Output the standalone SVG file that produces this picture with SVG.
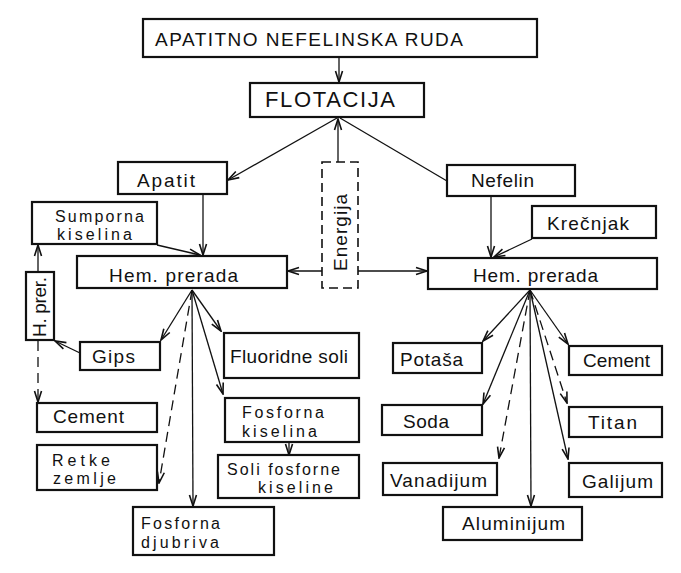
<svg xmlns="http://www.w3.org/2000/svg" width="681" height="573" viewBox="0 0 681 573">
<style>
.box{fill:#fff;stroke:#111;stroke-width:2.2}
.dbox{fill:none;stroke:#111;stroke-width:1.6;stroke-dasharray:9 5}
.t{font-family:"Liberation Sans",Arial,sans-serif;font-size:19px;fill:#111}
.t2{font-size:16px}
.c{fill:none;stroke:#111;stroke-width:1.3}
.d{stroke-dasharray:10 6}
</style>
<defs>
<marker id="ah" markerUnits="userSpaceOnUse" viewBox="-12 -5 13 10" refX="0" refY="0" markerWidth="13" markerHeight="10" orient="auto">
<path d="M-11,-3.5 L0,0 L-11,3.5" fill="none" stroke="#111" stroke-width="1.6"/>
</marker>
</defs>
<rect width="681" height="573" fill="#fff"/>
<g id="connectors">
<path class="c" d="M339,57 L339,82" marker-end="url(#ah)"/>
<path class="c" d="M337,118 L228,180" marker-end="url(#ah)"/>
<path class="c" d="M340,118 L447,181"/>
<path class="c" d="M338,162 L338,119" marker-end="url(#ah)"/>
<path class="c" d="M322,271 L288,271" marker-end="url(#ah)"/>
<path class="c" d="M358,271 L427,271" marker-end="url(#ah)"/>
<path class="c" d="M203,194 L203,255" marker-end="url(#ah)"/>
<path class="c" d="M157,245 L200,255" marker-end="url(#ah)"/>
<path class="c" d="M491,196 L491,257" marker-end="url(#ah)"/>
<path class="c" d="M532,239 L494,257" marker-end="url(#ah)"/>
<path class="c" d="M38,272 L38,245" marker-end="url(#ah)"/>
<path class="c" d="M80,353 L55,341" marker-end="url(#ah)"/>
<path class="c d" d="M38,341 L38,402" marker-end="url(#ah)"/>
<path class="c" d="M192,290 L161,340" marker-end="url(#ah)"/>
<path class="c d" d="M192,290 L159,483" marker-end="url(#ah)"/>
<path class="c" d="M192,290 L193,506" marker-end="url(#ah)"/>
<path class="c" d="M192,290 L221,331" marker-end="url(#ah)"/>
<path class="c" d="M192,290 L223,394" marker-end="url(#ah)"/>
<path class="c" d="M289,442 L289,455" marker-end="url(#ah)"/>
<path class="c" d="M530,290 L483,341" marker-end="url(#ah)"/>
<path class="c" d="M530,290 L483,404" marker-end="url(#ah)"/>
<path class="c d" d="M530,290 L499,458" marker-end="url(#ah)"/>
<path class="c" d="M530,290 L531,506" marker-end="url(#ah)"/>
<path class="c" d="M530,290 L568,344" marker-end="url(#ah)"/>
<path class="c d" d="M530,290 L567,403" marker-end="url(#ah)"/>
<path class="c" d="M530,290 L568,459" marker-end="url(#ah)"/>
</g>
<g id="ruda"><rect class="box" x="143" y="19" width="394" height="38"/><text class="t" x="155" y="46" textLength="308" lengthAdjust="spacing">APATITNO NEFELINSKA RUDA</text></g>
<g id="flotacija"><rect class="box" x="250" y="83" width="174" height="34"/><text class="t" x="265" y="107" style="font-size:22px" textLength="130" lengthAdjust="spacing">FLOTACIJA</text></g>
<g id="apatit"><rect class="box" x="118" y="162" width="109" height="32"/><text class="t" x="137" y="187" textLength="58" lengthAdjust="spacing">Apatit</text></g>
<g id="nefelin"><rect class="box" x="447" y="165" width="128" height="31"/><text class="t" x="471" y="187" textLength="63" lengthAdjust="spacing">Nefelin</text></g>
<g id="energija"><rect class="dbox" x="322" y="162" width="36" height="126"/><text class="t" transform="translate(347,271) rotate(-90)" x="0" y="0" textLength="77" lengthAdjust="spacing">Energija</text></g>
<g id="sumporna"><rect class="box" x="32" y="202" width="125" height="42"/><text class="t t2" x="55" y="221.5" textLength="89" lengthAdjust="spacing">Sumporna</text><text class="t t2" x="57" y="240" textLength="75" lengthAdjust="spacing">kiselina</text></g>
<g id="krecnjak"><rect class="box" x="532" y="206" width="124" height="32"/><text class="t" x="547" y="230" textLength="82" lengthAdjust="spacing">Krečnjak</text></g>
<g id="hem1"><rect class="box" x="77" y="256" width="210" height="32"/><text class="t" x="109" y="282" textLength="129" lengthAdjust="spacing">Hem. prerada</text></g>
<g id="hem2"><rect class="box" x="428" y="258" width="229" height="31"/><text class="t" x="473" y="282" textLength="125" lengthAdjust="spacing">Hem. prerada</text></g>
<g id="hprer"><rect class="box" x="26" y="272" width="28" height="68"/><text class="t" transform="translate(46,337) rotate(-90)" x="0" y="0" textLength="60" lengthAdjust="spacing">H. prer.</text></g>
<g id="gips"><rect class="box" x="80" y="342" width="80" height="28"/><text class="t" x="92" y="363" textLength="43" lengthAdjust="spacing">Gips</text></g>
<g id="cement1"><rect class="box" x="37" y="403" width="120" height="29"/><text class="t" x="53" y="423" textLength="71" lengthAdjust="spacing">Cement</text></g>
<g id="retke"><rect class="box" x="37" y="445" width="120" height="45"/><text class="t t2" x="52" y="465.5" textLength="58" lengthAdjust="spacing">Retke</text><text class="t t2" x="53" y="484" textLength="63" lengthAdjust="spacing">zemlje</text></g>
<g id="djubriva"><rect class="box" x="133" y="507" width="141" height="48"/><text class="t t2" x="141" y="529" textLength="79" lengthAdjust="spacing">Fosforna</text><text class="t t2" x="141" y="547.5" textLength="78" lengthAdjust="spacing">djubriva</text></g>
<g id="fluoridne"><rect class="box" x="224" y="333" width="135" height="45"/><text class="t" x="230" y="363" textLength="118" lengthAdjust="spacing">Fluoridne soli</text></g>
<g id="fkiselina"><rect class="box" x="225" y="398" width="134" height="44"/><text class="t t2" x="242" y="418" textLength="82" lengthAdjust="spacing">Fosforna</text><text class="t t2" x="242" y="436.5" textLength="75" lengthAdjust="spacing">kiselina</text></g>
<g id="soli"><rect class="box" x="218" y="455" width="141" height="43"/><text class="t t2" x="227" y="474.5" textLength="113" lengthAdjust="spacing">Soli fosforne</text><text class="t t2" x="258" y="493" textLength="75" lengthAdjust="spacing">kiseline</text></g>
<g id="potasa"><rect class="box" x="393" y="343" width="89" height="30"/><text class="t" x="400" y="366" textLength="63" lengthAdjust="spacing">Potaša</text></g>
<g id="cement2"><rect class="box" x="569" y="346" width="93" height="29"/><text class="t" x="583" y="367" textLength="67" lengthAdjust="spacing">Cement</text></g>
<g id="soda"><rect class="box" x="382" y="405" width="100" height="30"/><text class="t" x="403" y="428" textLength="46" lengthAdjust="spacing">Soda</text></g>
<g id="titan"><rect class="box" x="569" y="407" width="93" height="30"/><text class="t" x="588" y="429" textLength="49" lengthAdjust="spacing">Titan</text></g>
<g id="vanadijum"><rect class="box" x="383" y="463" width="114" height="32"/><text class="t" x="390" y="487" textLength="97" lengthAdjust="spacing">Vanadijum</text></g>
<g id="galijum"><rect class="box" x="569" y="463" width="93" height="34"/><text class="t" x="582" y="488" textLength="71" lengthAdjust="spacing">Galijum</text></g>
<g id="aluminijum"><rect class="box" x="443" y="507" width="139" height="33"/><text class="t" x="462" y="530" textLength="103" lengthAdjust="spacing">Aluminijum</text></g>
</svg>
